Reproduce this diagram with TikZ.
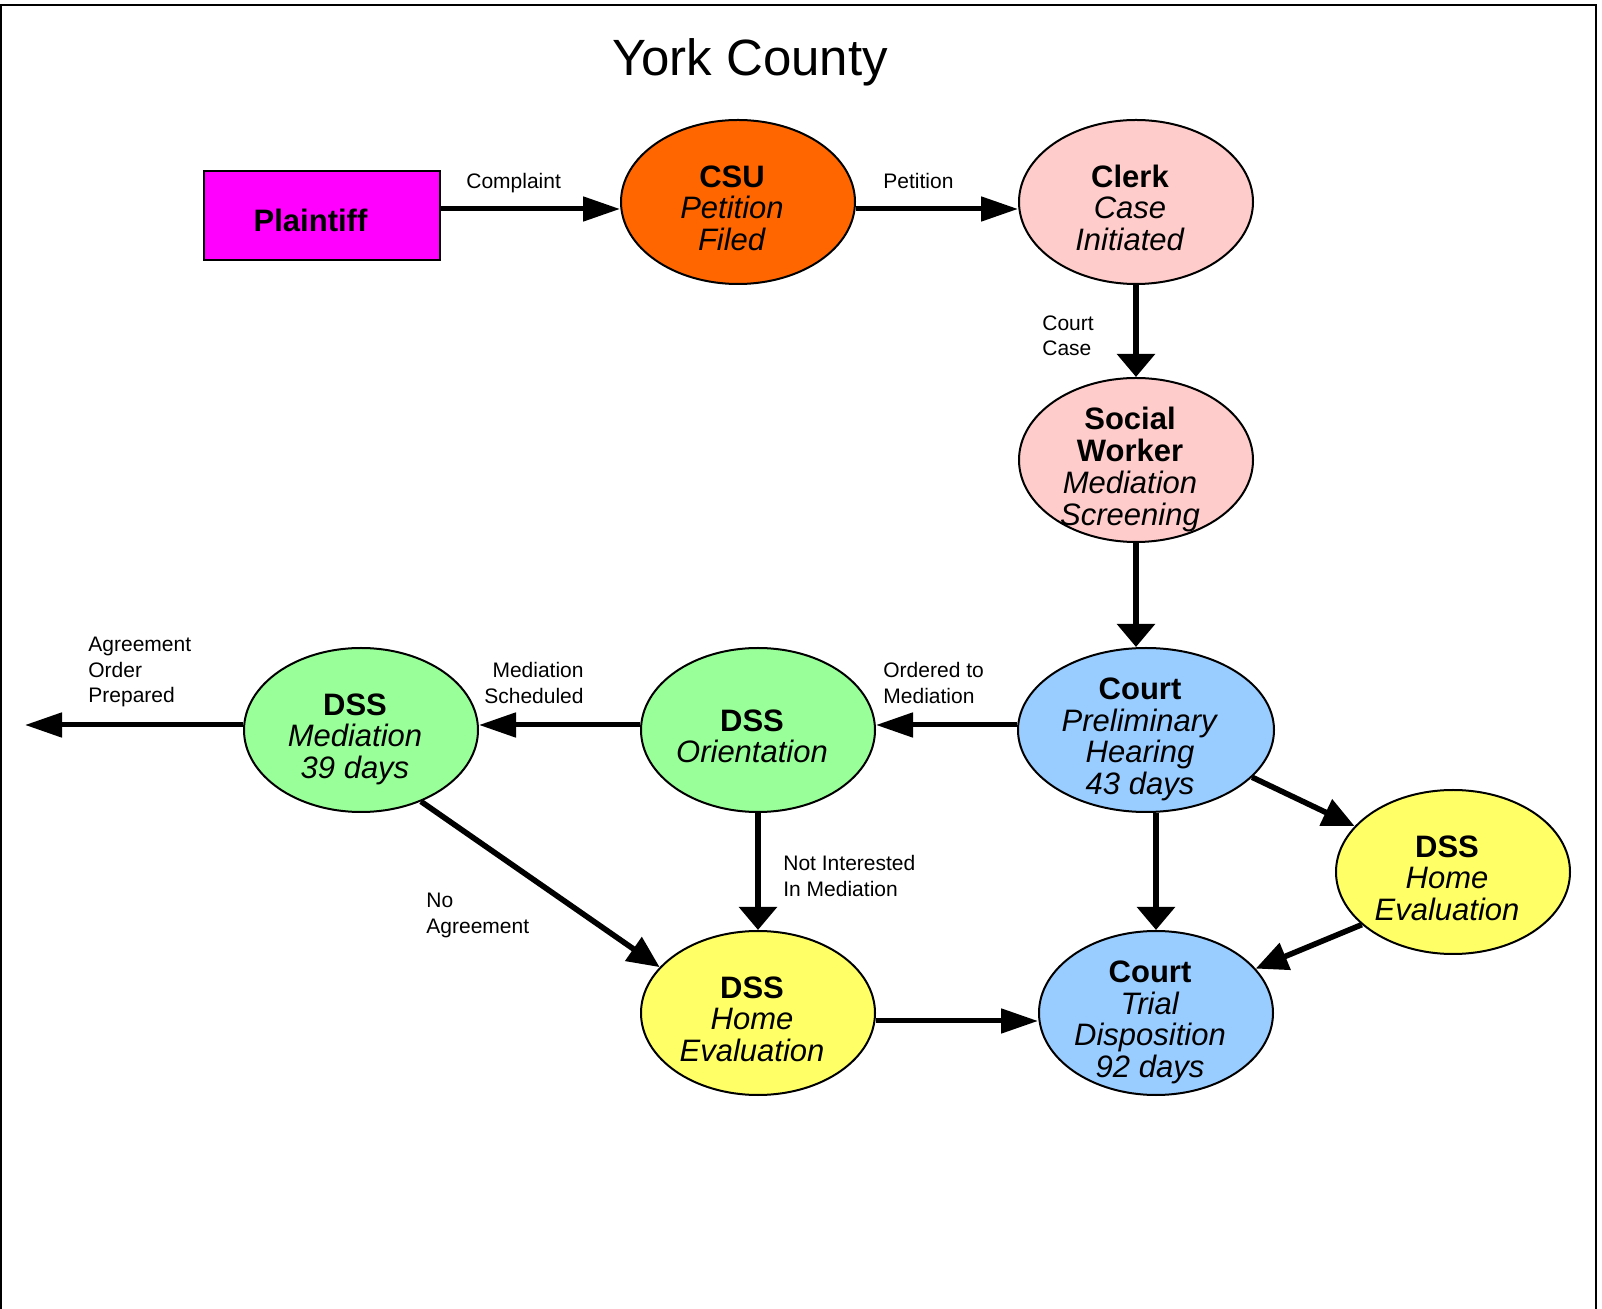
\documentclass[tikz,border=0pt]{standalone}
\usepackage{fontspec}
\setmainfont{Liberation Sans}
\usepackage{xcolor}
\usepackage{tikz}
\usetikzlibrary{arrows.meta}
\usetikzlibrary{shapes.geometric}

\definecolor{plaintiffmag}{HTML}{FF00FF}
\definecolor{csuorange}{HTML}{FF6600}
\definecolor{clerkpink}{HTML}{FFCCCC}
\definecolor{courtblue}{HTML}{99CCFF}
\definecolor{dssgreen}{HTML}{99FF99}
\definecolor{dssyellow}{HTML}{FFFF66}

% text of a stage, set a little left of and below the centre of its shape
\newcommand{\stagetext}[1]{\makebox[0pt]{\hspace{-6pt}\raisebox{-9pt}[0pt][0pt]{\begin{tabular}{@{}c@{}}#1\end{tabular}}}}

\begin{document}
\begin{tikzpicture}[x=0.5pt, y=-0.5pt,
        stage/.style={ellipse, draw, line width=1pt, minimum width=117pt, minimum height=82pt,
            inner sep=0pt, font=\fontsize{15.5}{15.5}\selectfont},
        lbl/.style={inner sep=0pt, font=\fontsize{10.5}{12.7}\selectfont},
        hflow/.style={line width=2.5pt, -{Triangle[length=18.5pt, width=12pt]}},
        vflow/.style={line width=3.2pt, -{Triangle[length=11.5pt, width=18.5pt]}},
        dflow/.style={line width=2.8pt, -{Triangle[length=16pt, width=14pt]}}]
        \useasboundingbox (0, 0) rectangle (1602, 1309);
        \draw[line width=1pt] (1, 1309) -- (1, 5) -- (1596, 5) -- (1596, 1309);

        \node[anchor=base, font=\fontsize{25.5}{30}\selectfont] (title) at (750, 76) {York County};

        % the stages
        \node[draw, line width=1pt, fill=plaintiffmag, minimum width=118pt, minimum height=44.5pt, inner sep=0pt,
            font=\fontsize{15.5}{15.5}\selectfont\bfseries] (plain) at (321.5, 215.5)
            {\makebox[0pt]{\hspace{-11pt}\raisebox{-8pt}[0pt][0pt]{Plaintiff}}};
        \node[stage, fill=csuorange] (csu) at (738, 202) {\stagetext{\textbf{CSU}\\\textit{Petition}\\\textit{Filed}}};
        \node[stage, fill=clerkpink] (clerk) at (1136, 202) {\stagetext{\textbf{Clerk}\\\textit{Case}\\\textit{Initiated}}};
        \node[stage, fill=clerkpink] (sw) at (1136, 460) {\stagetext{\textbf{Social}\\\textbf{Worker}\\\textit{Mediation}\\\textit{Screening}}};
        \node[stage, fill=courtblue, minimum width=128pt] (prelim) at (1146, 730) {\stagetext{\textbf{Court}\\\textit{Preliminary}\\\textit{Hearing}\\\textit{43 days}}};
        \node[stage, fill=dssgreen] (orient) at (758, 730) {\stagetext{\textbf{DSS}\\\textit{Orientation}}};
        \node[stage, fill=dssgreen] (medi) at (361, 730) {\stagetext{\textbf{DSS}\\\textit{Mediation}\\\textit{39 days}}};
        \node[stage, fill=dssyellow] (hebot) at (758, 1013) {\stagetext{\textbf{DSS}\\\textit{Home}\\\textit{Evaluation}}};
        \node[stage, fill=dssyellow] (her) at (1453, 872) {\stagetext{\textbf{DSS}\\\textit{Home}\\\textit{Evaluation}}};
        \node[stage, fill=courtblue] (trial) at (1156, 1013) {\stagetext{\textbf{Court}\\\textit{Trial}\\\textit{Disposition}\\\textit{92 days}}};
        \coordinate (agree) at (25, 725);

        % the flow
        \draw[hflow] ([yshift=3.25pt]plain.east) -- ([yshift=-3.5pt]csu.west);
        \draw[hflow] ([yshift=-3.5pt]csu.east) -- ([yshift=-3.5pt]clerk.west);
        \draw[vflow] (clerk) -- (sw);
        \draw[vflow] (sw.south) -- (sw.south |- prelim.north);
        \draw[hflow] ([yshift=2.5pt]prelim.west) -- ([yshift=2.5pt]orient.east);
        \draw[hflow] ([yshift=2.5pt]orient.west) -- ([yshift=2.5pt]medi.east);
        \draw[hflow] ([yshift=2.5pt]medi.west) -- (agree);
        \draw[vflow] (orient) -- (hebot);
        \draw[dflow] (medi.-50) -- (hebot.155);
        \draw[hflow] ([yshift=-4pt]hebot.east) -- ([yshift=-4pt]trial.west);
        \draw[vflow] (prelim.south -| trial.north) -- (trial.north);
        \draw[dflow] (prelim.-24) -- (her.155);
        \draw[dflow] (her.210) -- (trial.24);

        % labels
        \node[lbl, anchor=north west] (lcomp) at (466, 173) {Complaint};
        \node[lbl, anchor=north west] (lpet) at (883, 173) {Petition};
        \node[lbl, anchor=north west, align=left] (lcase) at (1042, 315) {Court\\Case};
        \node[lbl, anchor=north west, align=left] (lord) at (883, 662) {Ordered to\\Mediation};
        \node[lbl, anchor=north east, align=right] (lsched) at (584, 662) {Mediation\\Scheduled};
        \node[lbl, anchor=north west, align=left] (lagree) at (88, 637) {Agreement\\Order\\Prepared};
        \node[lbl, anchor=north west, align=left] (lnot) at (783, 855) {Not Interested\\In Mediation};
        \node[lbl, anchor=north west, align=left] (lno) at (426, 893) {No\\Agreement};
\end{tikzpicture}
\end{document}
